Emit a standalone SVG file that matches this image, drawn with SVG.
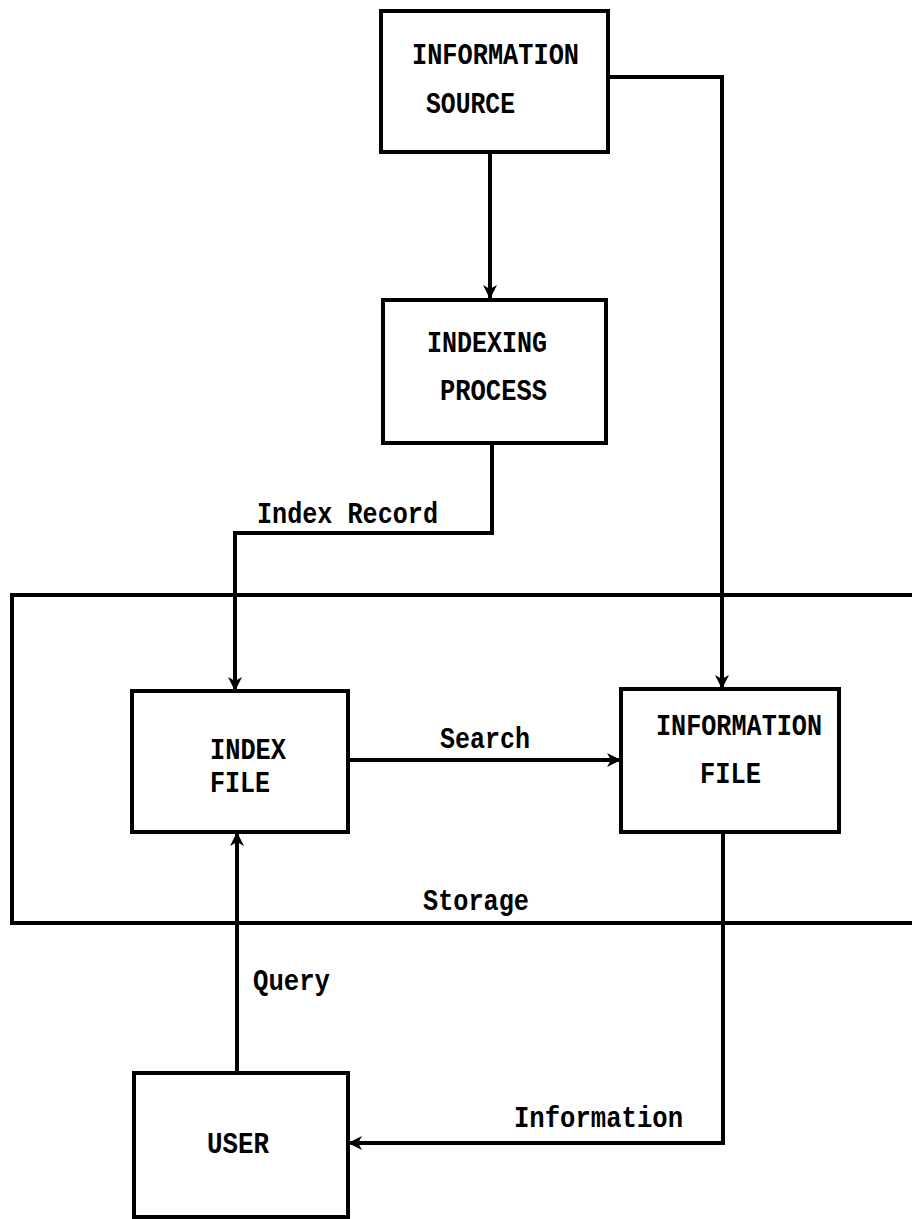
<svg xmlns="http://www.w3.org/2000/svg" width="912" height="1219" viewBox="0 0 912 1219">
  <style>
    .box { fill: none; stroke: #000; stroke-width: 4; stroke-linejoin: miter; }
    .line { fill: none; stroke: #000; stroke-width: 4; }
    .t { font-family: "Liberation Mono", "Courier New", monospace; font-weight: bold; font-size: 29px; fill: #000; }
  </style>
  <defs>
    <marker id="arr" markerUnits="userSpaceOnUse" markerWidth="16" markerHeight="14" refX="14" refY="7" orient="auto">
      <path d="M0,0 L14,7 L0,14 L4,7 z" fill="#000"/>
    </marker>
  </defs>
  <rect width="912" height="1219" fill="#fff"/>

  <g id="storage">
    <path class="line" d="M912,595 H12 V923 H912"/>
    <text class="t" x="423" y="910" textLength="106" lengthAdjust="spacingAndGlyphs">Storage</text>
  </g>

  <g id="connectors">
    <path class="line" d="M490,152 V299" marker-end="url(#arr)"/>
    <path class="line" d="M608,77 H722 V689" marker-end="url(#arr)"/>
    <path class="line" d="M492,443 V533 H235 V691" marker-end="url(#arr)"/>
    <path class="line" d="M348,760 H621" marker-end="url(#arr)"/>
    <path class="line" d="M237,1073 V832" marker-end="url(#arr)"/>
    <path class="line" d="M723,832 V1143 H348" marker-end="url(#arr)"/>
    <text class="t" x="257" y="523" textLength="181" lengthAdjust="spacingAndGlyphs">Index Record</text>
    <text class="t" x="440" y="748" textLength="90" lengthAdjust="spacingAndGlyphs">Search</text>
    <text class="t" x="253" y="990" textLength="77" lengthAdjust="spacingAndGlyphs">Query</text>
    <text class="t" x="514" y="1127" textLength="169" lengthAdjust="spacingAndGlyphs">Information</text>
  </g>

  <g id="information-source">
    <rect class="box" x="381" y="11" width="227" height="141"/>
    <text class="t" x="412" y="64" textLength="167" lengthAdjust="spacingAndGlyphs">INFORMATION</text>
    <text class="t" x="426" y="113" textLength="89" lengthAdjust="spacingAndGlyphs">SOURCE</text>
  </g>

  <g id="indexing-process">
    <rect class="box" x="383" y="300" width="223" height="143"/>
    <text class="t" x="427" y="352" textLength="120" lengthAdjust="spacingAndGlyphs">INDEXING</text>
    <text class="t" x="440" y="400" textLength="107" lengthAdjust="spacingAndGlyphs">PROCESS</text>
  </g>

  <g id="index-file">
    <rect class="box" x="132" y="691" width="216" height="141"/>
    <text class="t" x="210" y="759" textLength="76" lengthAdjust="spacingAndGlyphs">INDEX</text>
    <text class="t" x="210" y="792" textLength="60" lengthAdjust="spacingAndGlyphs">FILE</text>
  </g>

  <g id="information-file">
    <rect class="box" x="621" y="689" width="218" height="143"/>
    <text class="t" x="656" y="735" textLength="166" lengthAdjust="spacingAndGlyphs">INFORMATION</text>
    <text class="t" x="700" y="783" textLength="61" lengthAdjust="spacingAndGlyphs">FILE</text>
  </g>

  <g id="user">
    <rect class="box" x="134" y="1073" width="214" height="144"/>
    <text class="t" x="207" y="1153" textLength="62" lengthAdjust="spacingAndGlyphs">USER</text>
  </g>
</svg>
